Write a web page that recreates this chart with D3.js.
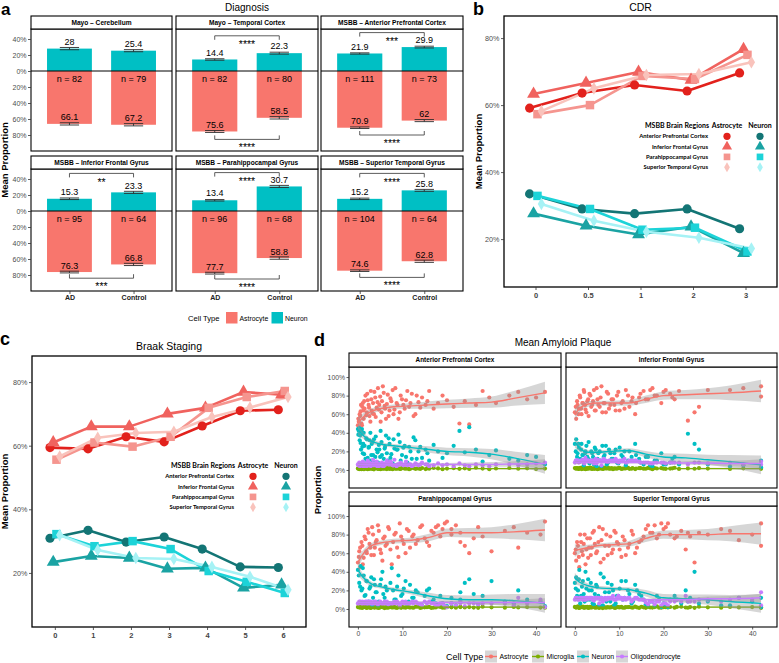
<!DOCTYPE html>
<html><head><meta charset="utf-8">
<script src="https://cdn.jsdelivr.net/npm/d3@7"></script>
<style>body{margin:0;background:#fff}</style>
</head><body>
<script>
// ---------------- DATA ----------------
// Panel a: Diagnosis
const diagFacets = ["Mayo – Cerebellum","Mayo – Temporal Cortex","MSBB – Anterior Prefrontal Cortex","MSBB – Inferior Frontal Gyrus","MSBB – Parahippocampal Gyrus","MSBB – Superior Temporal Gyrus"];
const diagGroups = ["AD","Control"];
const diagNeuron = [[28,25.4],[14.4,22.3],[21.9,29.9],[15.3,23.3],[13.4,30.7],[15.2,25.8]];
const diagAstro = [[66.1,67.2],[75.6,58.5],[70.9,62],[76.3,66.8],[77.7,58.8],[74.6,62.8]];
const diagN = [[82,79],[82,80],[111,73],[95,64],[96,68],[104,64]];
const diagNeuronSE = [[1.4,1.3],[0.9,1.2],[0.8,1.1],[1.0,1.3],[0.9,1.3],[0.9,1.2]];
const diagAstroSE = [[1.4,1.4],[1.2,1.5],[1.0,1.3],[1.1,1.4],[1.1,1.5],[1.0,1.4]];
const diagSigTop = ["","****","***","**","****","****"];
const diagSigBottom = ["","****","****","***","****","****"];
const diagSigTopY = [0,44,48,47,48,47];
const diagSigBottomY = [0,-85.5,-80,-84,-85,-83];
const diagTicks = [40,20,0,-20,-40,-60,-80];

// Panels b & c
const regions = ["Anterior Prefrontal Cortex","Inferior Frontal Gyrus","Parahippocampal Gyrus","Superior Temporal Gyrus"];
const cdrLevels = ["0","0.5","1","2","3"];
const cdrAstro = [[59.1,63.6,66,64.2,69.6],[63.3,66.6,69.9,67.5,76.7],[57.3,60,68.7,67.8,75],[58.2,65,69,69.3,72.8]];
const cdrNeuron = [[33.5,29,27.6,29,23.1],[27.6,24,21.4,23.7,15.8],[32.9,29,22.8,23.4,16.3],[30.5,25.5,22.2,20.4,17.2]];
const braakLevels = ["0","1","2","3","4","5","6"];
const braakAstro = [[59.4,59,62.8,61.2,66.2,71,71.3],[61,66,66,70,71.9,76.9,76],[55.6,61,59.7,62.8,71.9,75.3,77.2],[56.6,62.5,64,64.4,69,72,75.3]];
const braakNeuron = [[30.9,33.4,29.7,31.3,27.5,21.9,21.7],[23.4,25.3,24.7,21.3,21.6,15.3,16.3],[32.2,28.4,30,27.5,20.6,17.2,13.7],[31.9,27.2,24.7,24.4,21.9,18.8,14.7]];
const lineTicks = [20,40,60,80];

// Panel d: Mean Amyloid Plaque (samples: plaque mean and the four cell-type proportions)
const apcX = [0,0.2,0.3,0.5,0.6,0.8,1,1.1,1.3,1.5,1.7,2,2.2,2.4,2.6,2.9,3.1,3.4,3.6,3.9,4.2,4.5,4.8,5.1,5.4,5.8,6.1,6.5,6.9,7.3,7.8,8.2,8.7,9.1,9.6,10.2,10.8,11.5,12.1,12.9,13.6,14.4,15.2,16,17,18,19,20,21.5,22.8,24,25,26.5,28,29.5,31,34,36,38,40,42,
  0.1,0.4,0.7,0.9,1.2,1.4,1.9,2.1,2.5,2.8,3,3.3,3.7,4,4.4,4.7,5,5.3,5.6,6,6.3,6.7,7.1,7.5,8,8.4,8.9,9.4,9.9,10.5,11.1,11.8,12.5,13.2,14,15.6];
const apcAstro = [48,52,45,58,63,50,68,72,55,66,80,62,75,70,58,85,64,72,60,78,67,88,70,52,74,83,66,71,58,77,86,65,72,55,80,70,75,68,82,60,73,78,70,85,66,72,80,75,68,50,74,49,70,85,78,72,80,84,76,78,84,
  55,60,70,48,64,74,59,82,67,52,76,61,84,57,73,65,79,62,90,69,55,81,64,74,60,88,70,62,76,66,85,72,58,80,67,74];
const apcNeuron = [44,42,45,37,29,42,25,18,40,26,12,33,13,24,32,10,28,16,33,14,22,8,22,42,16,12,25,18,34,13,7,23,22,38,10,24,14,25,12,32,20,13,22,10,27,20,13,18,26,42,19,46,22,9,16,21,12,10,16,14,6,
  38,32,22,44,28,17,34,10,25,40,16,30,8,36,19,27,14,30,4,23,37,10,28,17,33,5,22,30,16,26,8,20,35,12,25,18];
const apcOligo = [6,5,8,4,6,7,5,9,3,7,6,4,10,5,8,4,6,11,5,7,9,3,6,5,8,4,7,10,6,9,5,11,4,6,8,5,9,6,4,7,5,8,6,4,5,7,5,6,4,7,5,4,6,5,4,6,6,5,6,7,8,
  5,6,6,6,6,7,5,6,6,6,6,7,6,5,6,6,5,6,4,6,6,7,6,7,5,5,6,6,6,6,5,6,5,6,6,6];
const apcMicro = [1.5,2,1,2.5,1.2,0.8,1.8,2.2,1,1.4,2.8,1.6,0.9,2.1,1.3,1.7,2.4,1.1,0.7,1.9,2.6,1.2,1.5,0.8,2.3,1.4,1.9,1,2.2,1.6,0.9,2.5,1.3,1.8,1.1,2,1.5,0.8,2.7,1.2,1.6,2.1,1,1.4,2.3,1.7,0.9,1.5,2,1.2,1.8,1.1,2.4,1.5,0.9,1.6,2.1,1.3,1.8,1,1.5,
  1.8,1.2,2.1,1.5,2.4,1,1.7,2,1.3,1.9,2.2,1.1,1.6,2.5,1.4,1.8,1.2,2,1.5,1.9,1.3,2.3,1.1,1.7,2.1,1.4,1.8,1.2,2.4,1.5,1.7,1.3,2,1.6,1.1,1.9];

const ifgX = [0,0.3,0.6,0.9,1.2,1.5,1.8,2.1,2.4,2.8,3.1,3.5,3.9,4.3,4.7,5.1,5.6,6,6.5,7,7.5,8,8.6,9.2,9.8,10.5,11.2,12,12.8,13.6,14.5,15.5,16.5,17.5,18.5,19.5,20.5,21.5,22.5,23.5,25.5,27,28,30,35,38,42,42,
  0.2,0.5,0.8,1.1,1.4,1.7,2,2.3,2.6,3,3.3,3.7,4.1,4.5,4.9,5.3,5.8,6.2,6.7,7.2,7.7,8.3,8.9,9.5,10.1,10.8,11.5,12.3,13,13.8,14.8,16,17,18,20,22];
const ifgAstro = [62,55,70,66,78,60,72,84,65,74,58,80,70,86,64,76,68,90,72,62,82,70,76,64,84,72,66,80,74,60,78,85,76,88,80,72,86,82,76,85,53,62,68,86,86,88,90,79,
  68,74,60,80,66,72,86,70,62,76,82,68,74,64,88,70,78,62,72,84,66,76,70,80,64,74,86,68,78,72,82,76,86,80,84,78];
const ifgNeuron = [28,33,18,24,12,28,16,8,20,14,30,10,18,6,22,12,20,4,14,26,8,18,12,22,7,16,20,10,14,28,12,6,14,4,10,18,6,8,14,6,39,28,22,6,4,5,3,10,
  20,14,28,10,22,16,5,18,26,12,7,20,14,24,4,18,10,26,16,6,22,12,18,8,24,14,5,20,10,16,8,14,5,10,6,12];
const ifgOligo = [8,10,10,8,9,10,11,7,13,10,10,9,10,7,12,11,10,5,12,10,9,10,10,12,8,10,12,9,10,10,9,8,8,7,8,8,7,8,8,8,6,8,8,7,8,6,6,9,
  10,10,10,9,10,10,8,10,10,10,9,10,10,10,7,10,10,10,10,9,10,10,10,10,10,10,8,10,10,10,8,8,7,8,8,8];
const ifgMicro = [2,1.5,1.8,1.2,2.4,1,1.6,2.1,0.8,1.9,1.3,2.6,1.1,1.7,2.2,0.9,1.5,2,1.2,1.8,2.5,1.4,0.9,1.6,2.1,1.1,1.7,2.3,1.3,1,1.9,1.4,2.2,0.8,1.6,2,1.2,1.5,2.4,1.1,1.7,1.3,2,1.5,1.1,1.8,1.2,2,
  1.6,2.1,1.2,1.8,2.4,1.3,1.7,2,1.1,1.9,2.3,1.4,1.8,1.2,2.2,1.5,1.9,1.1,2.5,1.6,1.3,2,1.7,1.4,2.2,1.5,1.8,1.2,2.1,1.6,1.9,1.3,1.7,2,1.4,1.8];

const phgX = [0,0.3,0.6,1,1.3,1.7,2,2.4,2.8,3.2,3.6,4,4.5,5,5.5,6,6.5,7,7.6,8.2,8.8,9.4,10,10.7,11.4,12.2,13,14,15,16,17,18,19,20,21,22,23,24,25,27,28,30,33,35,36,38,41,42,
  0.2,0.5,0.8,1.1,1.5,1.9,2.2,2.6,3,3.4,3.8,4.2,4.7,5.2,5.7,6.2,6.8,7.3,7.9,8.5,9.1,9.7,10.3,11,11.7,12.5,13.4,14.4,15.5,16.5,17.5,18.5,19.5,21,23,26];
const phgAstro = [50,62,45,68,55,75,60,82,66,88,58,72,90,64,52,78,70,86,48,80,66,92,74,60,84,78,70,88,76,68,82,90,86,94,80,90,72,68,60,88,78,62,84,88,66,82,80,94,
  56,66,72,48,78,62,86,70,58,80,66,74,84,60,76,68,88,64,72,82,56,78,70,86,66,80,74,90,72,84,88,78,92,86,82,76];
const phgNeuron = [42,28,46,22,36,15,30,8,24,4,32,18,3,26,40,12,20,6,44,10,24,3,16,30,8,12,20,5,14,22,10,4,6,3,12,4,18,28,32,5,14,30,8,6,20,10,8,3,
  36,24,20,44,14,30,6,22,34,12,26,18,8,32,16,24,5,28,20,10,36,14,22,6,26,12,18,4,20,8,6,14,3,6,10,16];
const phgOligo = [6,8,7,8,7,8,8,8,8,6,8,8,5,8,6,8,8,6,6,8,8,3,8,8,6,8,8,5,8,8,6,4,6,2,6,4,8,3,6,5,6,6,6,4,12,6,10,2,
  6,8,6,6,6,6,6,6,6,6,6,6,6,6,6,6,5,6,6,6,6,6,6,6,6,6,6,4,6,6,4,6,3,6,6,6];
const phgMicro = [2,1.6,2.3,1.2,1.9,2.5,1.4,2,1.1,2.2,1.7,2.6,1.3,1.8,2.4,1,1.5,2.1,1.7,2.8,1.2,1.9,2.3,1.4,2,1.6,2.5,1.1,1.8,2.2,1.5,2.7,1.3,1.9,2.1,1.4,2.4,1.6,2,1.2,2.5,1.8,1.4,2.2,1.7,2,1.5,1.3,
  2.1,1.6,1.3,1.9,2.4,1.2,1.7,2,1.4,2.3,1.5,1.8,1.1,2.2,1.6,1.9,1.3,2.5,1.7,1.4,2,1.2,1.8,2.1,1.5,1.3,2.4,1.6,1.9,1.1,1.7,2.2,1.4,1.8,2,1.5];

const stgX = [0,0.3,0.7,1,1.4,1.8,2.2,2.6,3,3.4,3.8,4.3,4.8,5.3,5.8,6.3,6.8,7.4,8,8.6,9.2,9.8,10.5,11.2,12,12.8,13.6,14.5,15.5,16.5,17.5,18.5,19.5,20.5,21.5,22.5,24,25,26,27,28,30,33,35,37,40,42,42,
  0.2,0.5,0.9,1.2,1.6,2,2.4,2.8,3.2,3.6,4,4.5,5,5.5,6,6.5,7.1,7.7,8.3,8.9,9.5,10.1,10.8,11.5,12.3,13.1,14,15,16,17,18,19,20,21,23,25.5];
const stgAstro = [60,52,68,45,72,58,80,64,55,76,66,84,60,72,50,86,68,58,78,64,82,70,56,74,66,84,60,72,78,90,82,76,92,88,80,76,84,64,78,50,82,80,86,84,74,80,92,68,
  64,72,56,80,62,70,48,76,66,58,82,70,62,88,74,54,80,68,60,84,72,64,78,58,70,80,66,74,86,82,90,80,86,92,78,82];
const stgNeuron = [28,34,20,42,14,30,8,22,32,10,20,5,26,14,38,4,18,28,8,20,6,14,30,12,20,6,26,16,10,3,8,14,2,4,10,14,6,20,12,40,6,8,4,4,12,8,2,12,
  22,14,32,6,24,16,40,10,20,28,6,16,24,4,12,34,8,18,26,4,14,22,10,30,16,8,20,14,5,8,3,10,6,2,10,8];
const stgOligo = [10,12,10,11,12,10,10,12,11,12,12,9,12,12,10,8,12,12,12,14,10,14,12,12,12,8,12,10,10,5,8,8,4,6,8,8,8,14,8,8,10,10,8,10,12,10,4,18,
  12,12,10,12,12,12,10,12,12,12,10,12,12,6,12,10,10,12,12,10,12,12,10,10,12,10,12,10,7,8,5,8,6,4,10,8];
const stgMicro = [2.2,1.5,2.8,1.2,1.9,2.5,1.4,2,1.1,2.3,1.7,2.6,1.3,1.8,2.4,1,1.6,2.1,1.7,2.8,1.2,1.9,2.3,1.4,2,1.6,2.5,1.1,1.8,2.2,1.5,2.7,1.3,1.9,2.1,1.4,2.4,1.6,2,1.2,2.5,1.8,1.4,2.2,1.7,2,1.5,1.3,
  1.8,2.3,1.2,1.6,2.1,1.4,1.9,2.4,1.3,1.7,2,1.5,2.2,1.1,1.8,2.5,1.4,1.6,2,1.2,2.3,1.7,1.3,1.9,2.1,1.5,1.8,2.4,1.2,1.6,2,1.4,1.9,1.7,2.2,1.3];

// loess fits
const fitX = [0,1,3,5,8,12,16,20,25,30,35,42];
const apcFitAstro = [50,56,63,66,68,69,70,71,72,73,77,83];
const apcFitNeuron = [43,38,31,28,26,24,22,20,19,17,13,6];
const apcFitOligo = [6,6,6,6,6,6,6,6,6,6,6.5,7];
const apcFitMicro = [1.5,1.5,1.5,1.5,1.5,1.5,1.5,1.5,1.5,1.5,1.5,1.5];
const ifgFitAstro = [59,66,71,72,72,72,76,80,81,82,83,85];
const ifgFitNeuron = [30,24,19,19,20,21,17,14,13,11,9,5.5];
const ifgFitOligo = [8,8,8,8,8,8,8,7.5,7.5,7.5,7,7];
const ifgFitMicro = [1.5,1.5,1.5,1.5,1.5,1.5,1.5,1.5,1.5,1.5,1.5,1.5];
const phgFitAstro = [50,58,68,71,73,74,77,82,82,82,83,85];
const phgFitNeuron = [42,35,27,24,21,18,14,11,10,10,9,6];
const phgFitOligo = [7,7,7,7,7,7,7,7,7,7,7,7];
const phgFitMicro = [2,2,2,2,2,2,2,2,2,2,2,2];
const stgFitAstro = [63,64,66,68,69,70,76,80,80,80,81,81];
const stgFitNeuron = [33,29,25,23,22,21,17,12,11,10,8,6];
const stgFitOligo = [10,10,10,10,10,10,10,10,10,11,11,12];
const stgFitMicro = [2,2,2,2,2,2,2,2,2,2,2,2];
const ciAstro = [7,4.5,3,2.5,2.5,3,4,4.5,5,6,8,12];
const ciNeuron = [6,4,2.5,2,2,2.5,3.5,4,4.5,5.5,7,10];
const ciOligo = [2,1.5,1,1,1,1,1.2,1.5,2,2.5,3,4.5];
const ciMicro = [0.6,0.5,0.3,0.3,0.3,0.3,0.4,0.5,0.6,0.8,1,1.5];
const dTypes = ["Astrocyte","Microglia","Neuron","Oligodendrocyte"];
const dXTicks = [0,10,20,30,40];
const dYTicks = [0,20,40,60,80,100];

// ---------------- STYLE ----------------
const FONT = '"Liberation Sans", Arial, Helvetica, sans-serif';
const LFONT = 'Lato, "Open Sans", sans-serif';
const ASTRO = "#F8766D", NEURON = "#00BFC4";
const dColors = ["#F8766D","#7CAE00","#00BFC4","#C77CFF"];
const astroCols = ["#E2211C","#F0625E","#F5958F","#F9C3BC"];
const neuronCols = ["#137575","#1AA3A3","#1CD3D8","#A6F2F5"];
const shapes = [d3.symbolCircle, d3.symbolTriangle, d3.symbolSquare, d3.symbolDiamond];
const shapeSize = [66, 72, 72, 46];

const svg = d3.select("body").append("svg").attr("width",779).attr("height",663)
  .style("font-family",FONT);
svg.append("rect").attr("width",779).attr("height",663).attr("fill","#fff");

function styleAxis(g, size, color, weight){
  g.select(".domain").remove();
  g.selectAll(".tick line").attr("stroke","#333").attr("stroke-width",0.8);
  g.selectAll(".tick text").attr("fill",color||"#4d4d4d").attr("font-size",size)
    .attr("font-family",FONT).attr("font-weight",weight||"normal");
}
function txt(x,y,s,size,opts={}){
  const t = svg.append("text").attr("x",x).attr("y",y).attr("font-size",size).text(s)
    .attr("text-anchor",opts.anchor||"start").attr("fill",opts.fill||"#000")
    .attr("font-weight",opts.weight||"normal");
  if(opts.family) t.attr("font-family",opts.family);
  if(opts.rotate) t.attr("transform",`rotate(-90,${x},${y})`);
  if(opts.dy) t.attr("dy",opts.dy);
  return t;
}

// ---------------- PANEL A ----------------
txt(1,15,"a",17,{weight:"bold"});
txt(247,10.5,"Diagnosis",10,{anchor:"middle"});
txt(5,160,"Mean Proportion",9.5,{anchor:"middle",weight:"bold",rotate:true,dy:"0.35em"});
const aCols = [[31,172],[176,318],[321,463]];
const aRows = [[16,29,151],[156,169,291]];
diagFacets.forEach((name,i)=>{
  const c=i%3, r=Math.floor(i/3);
  const [x0,x1]=aCols[c]; const [s0,p0,p1]=aRows[r];
  const x=d3.scalePoint().domain(diagGroups).range([x0,x1]).padding(0.6);
  const y=d3.scaleLinear().domain([-100,52.5]).range([p1,p0]);
  const bw=x.step()*0.7, cw=x.step()*0.3;
  const g=svg.append("g");
  diagGroups.forEach((grp,j)=>{
    const cx=x(grp), nv=diagNeuron[i][j], av=diagAstro[i][j];
    g.append("rect").attr("x",cx-bw/2).attr("width",bw).attr("y",y(nv)).attr("height",y(0)-y(nv)).attr("fill",NEURON);
    g.append("rect").attr("x",cx-bw/2).attr("width",bw).attr("y",y(0)).attr("height",y(-av)-y(0)).attr("fill",ASTRO);
  });
  g.append("line").attr("x1",x0).attr("x2",x1).attr("y1",y(0)).attr("y2",y(0)).attr("stroke","#000").attr("stroke-width",1);
  diagGroups.forEach((grp,j)=>{
    const cx=x(grp);
    [[diagNeuron[i][j],diagNeuronSE[i][j]],[-diagAstro[i][j],diagAstroSE[i][j]]].forEach(([v,se])=>{
      const e=g.append("g").attr("stroke","#2b2b2b").attr("stroke-width",0.9);
      e.append("line").attr("x1",cx).attr("x2",cx).attr("y1",y(v-se)).attr("y2",y(v+se));
      e.append("line").attr("x1",cx-cw/2).attr("x2",cx+cw/2).attr("y1",y(v-se)).attr("y2",y(v-se));
      e.append("line").attr("x1",cx-cw/2).attr("x2",cx+cw/2).attr("y1",y(v+se)).attr("y2",y(v+se));
    });
    g.append("text").attr("x",cx).attr("y",y(diagNeuron[i][j])-3.8).attr("text-anchor","middle").attr("font-size",9).text(diagNeuron[i][j]);
    g.append("text").attr("x",cx).attr("y",y(0)+11).attr("text-anchor","middle").attr("font-size",9).text("n = "+diagN[i][j]);
    g.append("text").attr("x",cx).attr("y",y(-diagAstro[i][j])-3.4).attr("text-anchor","middle").attr("font-size",9).text(diagAstro[i][j]);
  });
  if(diagSigTop[i]){
    const ly=y(diagSigTopY[i]), t=y(diagSigTopY[i]-5);
    g.append("path").attr("d",`M${x("AD")},${t}V${ly}H${x("Control")}V${t}`).attr("fill","none").attr("stroke","#333").attr("stroke-width",0.8);
    g.append("text").attr("x",(x("AD")+x("Control"))/2).attr("y",ly+12.5).attr("text-anchor","middle").attr("font-size",10.5).text(diagSigTop[i]);
  }
  if(diagSigBottom[i]){
    const ly=y(diagSigBottomY[i]), t=y(diagSigBottomY[i]+5);
    g.append("path").attr("d",`M${x("AD")},${t}V${ly}H${x("Control")}V${t}`).attr("fill","none").attr("stroke","#333").attr("stroke-width",0.8);
    g.append("text").attr("x",(x("AD")+x("Control"))/2).attr("y",ly+11.5).attr("text-anchor","middle").attr("font-size",10.5).text(diagSigBottom[i]);
  }
  g.append("rect").attr("x",x0).attr("y",p0).attr("width",x1-x0).attr("height",p1-p0).attr("fill","none").attr("stroke","#000").attr("stroke-width",1.1);
  g.append("rect").attr("x",x0).attr("y",s0).attr("width",x1-x0).attr("height",p0-s0).attr("fill","#fff").attr("stroke","#000").attr("stroke-width",1.1);
  g.append("text").attr("x",(x0+x1)/2).attr("y",(s0+p0)/2).attr("dy","0.35em").attr("text-anchor","middle").attr("font-size",6.6).attr("font-weight","bold").text(name);
  if(c===0){
    const ax=g.append("g").attr("transform",`translate(${x0},0)`).call(d3.axisLeft(y).tickValues(diagTicks).tickFormat(d=>Math.abs(d)+"%").tickSize(3).tickPadding(1.5));
    styleAxis(ax,7);
  }
  if(r===1){
    const ax=g.append("g").attr("transform",`translate(0,${p1})`).call(d3.axisBottom(x).tickSize(3).tickPadding(1.5));
    styleAxis(ax,7,"#222","bold");
  }
});
txt(188,320.5,"Cell Type",7.6);
svg.append("rect").attr("x",226).attr("y",312).attr("width",11.5).attr("height",11.5).attr("fill",ASTRO);
txt(239.5,320.5,"Astrocyte",6.9);
svg.append("rect").attr("x",271.5).attr("y",312).attr("width",11.5).attr("height",11.5).attr("fill",NEURON);
txt(285,320.5,"Neuron",6.9);

// ---------------- PANELS B & C ----------------
function linePanel(cfg){
  const x=d3.scalePoint().domain(cfg.levels).range([cfg.x0,cfg.x1]).padding(0.6);
  const y=d3.scaleLinear().domain(cfg.yDomain).range([cfg.y1,cfg.y0]);
  const g=svg.append("g");
  const off=k=>(k-1.5)*x.step()*cfg.dodge;
  const sets=[[cfg.astro,astroCols],[cfg.neuron,neuronCols]];
  sets.forEach(([set,cols])=>set.forEach((vals,k)=>{
    const line=d3.line().x((v,i)=>x(cfg.levels[i])+off(k)).y(v=>y(v));
    g.append("path").attr("d",line(vals)).attr("fill","none").attr("stroke",cols[k]).attr("stroke-width",2.6).attr("stroke-linejoin","round");
  }));
  sets.forEach(([set,cols])=>set.forEach((vals,k)=>{
    vals.forEach((v,i)=>{
      g.append("path").attr("d",d3.symbol().type(shapes[k]).size(shapeSize[k])())
        .attr("transform",`translate(${x(cfg.levels[i])+off(k)},${y(v)})`).attr("fill",cols[k]);
    });
  }));
  g.append("rect").attr("x",cfg.x0).attr("y",cfg.y0).attr("width",cfg.x1-cfg.x0).attr("height",cfg.y1-cfg.y0).attr("fill","none").attr("stroke","#000").attr("stroke-width",1.3);
  const ay=g.append("g").attr("transform",`translate(${cfg.x0},0)`).call(d3.axisLeft(y).tickValues(lineTicks).tickFormat(d=>d+"%").tickSize(3).tickPadding(1.5));
  styleAxis(ay,7.2);
  const axb=g.append("g").attr("transform",`translate(0,${cfg.y1})`).call(d3.axisBottom(x).tickSize(3).tickPadding(2.5));
  styleAxis(axb,7.5,"#444","bold");
  txt((cfg.x0+cfg.x1)/2,cfg.titleY,cfg.title,10.5,{anchor:"middle"});
  txt(cfg.ylabX,(cfg.y0+cfg.y1)/2,"Mean Proportion",9.5,{anchor:"middle",weight:"bold",rotate:true,dy:"0.35em"});
  const L=cfg.legend;
  txt(L.right,L.top,"MSBB Brain Regions",7,{anchor:"end",weight:"bold",family:LFONT,dy:"0.35em"});
  txt(L.ax,L.top,"Astrocyte",7,{anchor:"middle",weight:"bold",family:LFONT,dy:"0.35em"});
  txt(L.nx,L.top,"Neuron",7,{anchor:"middle",weight:"bold",family:LFONT,dy:"0.35em"});
  regions.forEach((rg,k)=>{
    const yy=L.top+10.3*(k+1);
    txt(L.right-1,yy,rg,5.9,{anchor:"end",weight:"bold",family:LFONT,dy:"0.35em"});
    g.append("path").attr("d",d3.symbol().type(shapes[k]).size(shapeSize[k]*0.62)()).attr("transform",`translate(${L.ax},${yy})`).attr("fill",astroCols[k]);
    g.append("path").attr("d",d3.symbol().type(shapes[k]).size(shapeSize[k]*0.62)()).attr("transform",`translate(${L.nx},${yy})`).attr("fill",neuronCols[k]);
  });
}
txt(473,15,"b",18,{weight:"bold"});
linePanel({levels:cdrLevels,astro:cdrAstro,neuron:cdrNeuron,x0:504,x1:777,y0:16,y1:287,yDomain:[5.7,86.6],dodge:0.075,
  title:"CDR",titleY:11,ylabX:479,legend:{right:709,ax:727,nx:760,top:126}});
txt(0,345,"c",18,{weight:"bold"});
linePanel({levels:braakLevels,astro:braakAstro,neuron:braakNeuron,x0:32,x1:306,y0:356,y1:627,yDomain:[3.0,88.2],dodge:0.085,
  title:"Braak Staging",titleY:349.5,ylabX:5,legend:{right:235,ax:253,nx:286,top:466}});

// ---------------- PANEL D ----------------
txt(314,346,"d",18,{weight:"bold"});
txt(563,345.7,"Mean Amyloid Plaque",10,{anchor:"middle"});
txt(318,490,"Proportion",9.5,{anchor:"middle",weight:"bold",rotate:true,dy:"0.35em"});
const fitCI=[ciAstro,ciMicro,ciNeuron,ciOligo];
const dFacets=[
  {name:"Anterior Prefrontal Cortex",x:apcX,vals:[apcAstro,apcMicro,apcNeuron,apcOligo],fit:[apcFitAstro,apcFitMicro,apcFitNeuron,apcFitOligo]},
  {name:"Inferior Frontal Gyrus",x:ifgX,vals:[ifgAstro,ifgMicro,ifgNeuron,ifgOligo],fit:[ifgFitAstro,ifgFitMicro,ifgFitNeuron,ifgFitOligo]},
  {name:"Parahippocampal Gyrus",x:phgX,vals:[phgAstro,phgMicro,phgNeuron,phgOligo],fit:[phgFitAstro,phgFitMicro,phgFitNeuron,phgFitOligo]},
  {name:"Superior Temporal Gyrus",x:stgX,vals:[stgAstro,stgMicro,stgNeuron,stgOligo],fit:[stgFitAstro,stgFitMicro,stgFitNeuron,stgFitOligo]}
];
const dCols=[[349,561],[566,777]];
const dRows=[[353,367,488],[492,506,627]];
dFacets.forEach((f,i)=>{
  const c=i%2, r=Math.floor(i/2);
  const [x0,x1]=dCols[c]; const [s0,p0,p1]=dRows[r];
  const x=d3.scaleLinear().domain([-2,45.6]).range([x0,x1]);
  const y=d3.scaleLinear().domain([-19.4,110.8]).range([p1,p0]);
  const g=svg.append("g");
  const cid="clipd"+i;
  svg.append("clipPath").attr("id",cid).append("rect").attr("x",x0).attr("y",p0).attr("width",x1-x0).attr("height",p1-p0);
  const pg=g.append("g").attr("clip-path",`url(#${cid})`);
  f.vals.forEach((vals,t)=>{
    pg.selectAll(null).data(vals).join("circle")
      .attr("cx",(v,k)=>x(f.x[k])).attr("cy",v=>y(v)).attr("r",2.1).attr("fill",dColors[t]);
  });
  f.fit.forEach((fit,t)=>{
    const ci=fitCI[t];
    const area=d3.area().x((d,k)=>x(fitX[k])).y0((d,k)=>y(d-ci[k])).y1((d,k)=>y(d+ci[k])).curve(d3.curveMonotoneX);
    pg.append("path").attr("d",area(fit)).attr("fill","#999").attr("fill-opacity",0.4);
    const line=d3.line().x((d,k)=>x(fitX[k])).y(d=>y(d)).curve(d3.curveMonotoneX);
    pg.append("path").attr("d",line(fit)).attr("fill","none").attr("stroke",dColors[t]).attr("stroke-width",1.4);
  });
  g.append("rect").attr("x",x0).attr("y",p0).attr("width",x1-x0).attr("height",p1-p0).attr("fill","none").attr("stroke","#000").attr("stroke-width",1.1);
  g.append("rect").attr("x",x0).attr("y",s0).attr("width",x1-x0).attr("height",p0-s0).attr("fill","#fff").attr("stroke","#000").attr("stroke-width",1.1);
  g.append("text").attr("x",(x0+x1)/2).attr("y",(s0+p0)/2).attr("dy","0.35em").attr("text-anchor","middle").attr("font-size",6.4).attr("font-weight","bold").text(f.name);
  if(c===0){
    const ax=g.append("g").attr("transform",`translate(${x0},0)`).call(d3.axisLeft(y).tickValues(dYTicks).tickFormat(d=>d+"%").tickSize(2.5).tickPadding(1.5));
    styleAxis(ax,6.8);
  }
  if(r===1){
    const ax=g.append("g").attr("transform",`translate(0,${p1})`).call(d3.axisBottom(x).tickValues(dXTicks).tickFormat(d3.format("d")).tickSize(2.5).tickPadding(2));
    styleAxis(ax,6.8);
  }
});
txt(446,659.5,"Cell Type",9);
const keyX=[485,532,577,616];
dTypes.forEach((t,k)=>{
  const kx=keyX[k];
  svg.append("rect").attr("x",kx).attr("y",650.5).attr("width",12).attr("height",12).attr("fill","#d6d6d6");
  svg.append("line").attr("x1",kx).attr("x2",kx+12).attr("y1",656.5).attr("y2",656.5).attr("stroke",dColors[k]).attr("stroke-width",1.4);
  svg.append("circle").attr("cx",kx+6).attr("cy",656.5).attr("r",2.1).attr("fill",dColors[k]);
  txt(kx+14.5,659,t,6.9);
});
</script>
</body></html>
